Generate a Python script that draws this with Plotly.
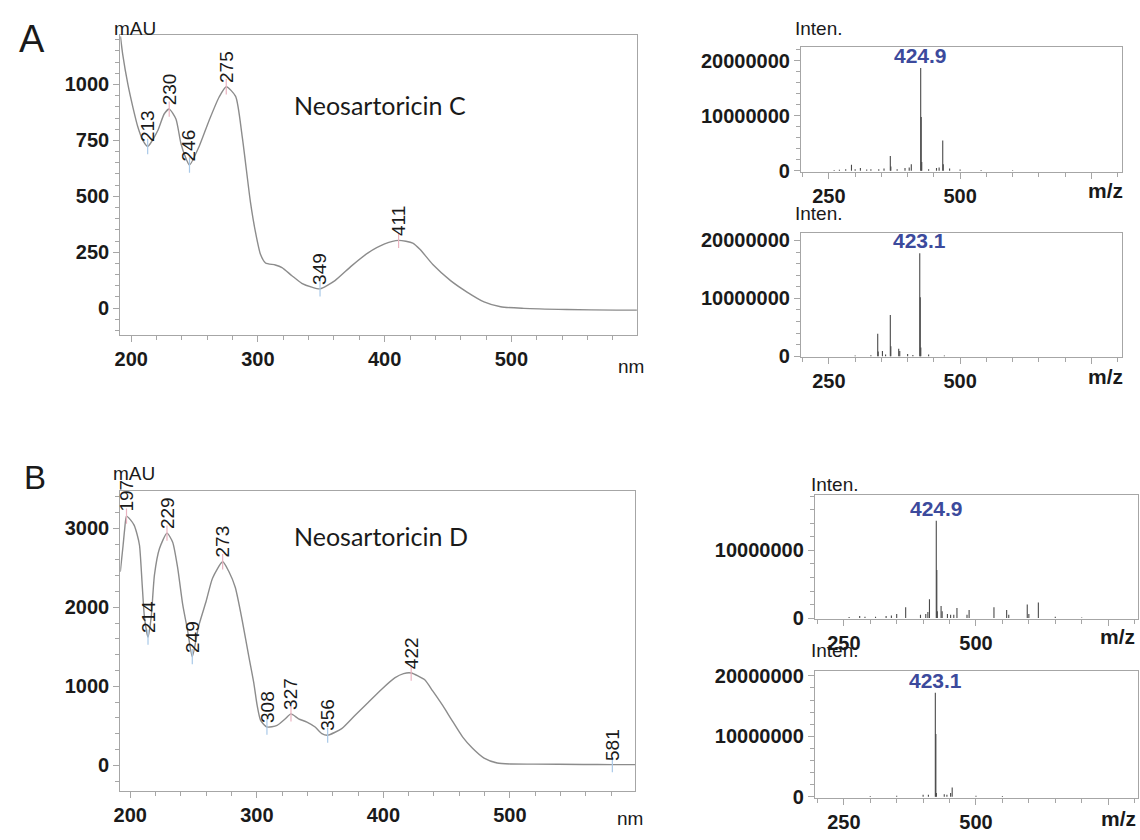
import plotly.graph_objects as go

# ---------------- UV spectra (HPLC-DAD) ----------------
uvC_nm = [191.5, 193.4, 197.4, 201.3, 205.2, 209.2, 213, 221, 226, 230, 235.3, 239.2, 242.5,
          246, 253.6, 261.4, 269.3, 275, 282.4, 287.6, 294.1, 298, 302, 306, 313.7, 319,
          326.8, 334.6, 342.5, 349, 360.8, 373.9, 386.9, 400, 411, 422.2, 428, 438, 452,
          465, 478.4, 491.5, 509.8, 543.5, 583, 599]
uvC_mAU = [1215, 1131, 1000, 899, 811, 750, 723, 794, 868, 890, 846, 737, 680,
           640, 723, 838, 943, 990, 947, 767, 474, 342, 241, 202, 193, 181,
           145, 111, 94, 86, 123, 189, 247, 287, 303, 291, 262, 195, 123,
           72, 28, 6, -1, -6, -9, -9]
peaksC_nm = [213, 230, 246, 275, 349, 411]
peaksC_mAU = [723, 890, 640, 990, 86, 303]
peaksC_kind = ["min", "max", "min", "max", "min", "max"]

uvD_nm = [192.1, 194.3, 195.5, 197, 200, 203, 205.3, 207.3, 209.4, 211.2, 214, 216.5, 219.1,
          223, 229, 233.5, 237.5, 241.4, 245.3, 249, 254, 260, 265, 273, 278, 283, 288.5,
          293.7, 297.6, 300.3, 303, 308, 316, 322.5, 327, 333, 339.6, 346.1, 351.4, 356,
          367.1, 377.5, 388, 398.5, 409, 416, 422, 432.5, 439, 447, 453.5, 462.6, 470.5,
          479.6, 490, 500.6, 519, 558, 581, 599]
uvD_mAU = [2451, 2783, 2980, 3155, 3110, 3040, 2928, 2783, 2286, 1872, 1623, 1872, 2410,
           2741, 2940, 2824, 2493, 2037, 1706, 1375, 1760, 2080, 2369, 2576, 2450, 2250, 1830,
           1375, 1043, 754, 568, 484, 505, 588, 650, 588, 547, 484, 401, 381,
           464, 630, 795, 960, 1106, 1160, 1168, 1085, 941, 754, 588, 360, 215,
           91, 29, 16, 14, 10, 8, 8]
peaksD_nm = [197, 214, 229, 249, 273, 308, 327, 356, 422, 581]
peaksD_mAU = [3155, 1623, 2940, 1375, 2576, 484, 650, 381, 1168, 8]
peaksD_kind = ["max", "min", "max", "min", "max", "min", "max", "min", "max", "min"]

# ---------------- MS spectra (stick data) ----------------
msC_pos_mz = [260, 270, 282, 293, 300, 310, 322, 330, 345, 355, 367, 368, 380, 395, 403, 407,
              424.9, 425.9, 426.9, 440, 455, 460, 466.9, 467.9, 480, 500, 540, 600]
msC_pos_int = [0.15e6, 0.2e6, 0.3e6, 1.1e6, 0.3e6, 0.5e6, 0.25e6, 0.3e6, 0.3e6, 0.4e6, 2.7e6, 0.8e6,
               0.3e6, 0.5e6, 0.6e6, 1.2e6, 18.7e6, 9.8e6, 1.6e6, 0.3e6, 0.5e6, 0.6e6, 5.5e6, 1.2e6,
               0.4e6, 0.25e6, 0.15e6, 0.1e6]

msC_neg_mz = [300, 330, 343, 344, 352, 358, 367, 368, 383, 385, 400, 410, 423.1, 424.1, 425.1, 440, 470]
msC_neg_int = [0.1e6, 0.15e6, 3.9e6, 0.8e6, 0.9e6, 0.3e6, 7.1e6, 1.7e6, 1.3e6, 0.9e6, 0.4e6, 0.2e6,
               17.8e6, 10.2e6, 1.5e6, 0.3e6, 0.1e6]

msD_pos_mz = [260, 280, 290, 310, 330, 340, 350, 367, 395, 405, 409, 412, 424.9, 425.9, 426.9,
              434, 436, 446, 452, 458, 464, 483, 487, 534, 558, 562, 597, 600, 618, 650, 700]
msD_pos_int = [0.15e6, 0.3e6, 0.2e6, 0.2e6, 0.3e6, 0.4e6, 0.6e6, 1.6e6, 0.5e6, 0.6e6, 0.9e6, 2.8e6,
               14.4e6, 7.1e6, 1.0e6, 1.8e6, 1.0e6, 0.6e6, 0.5e6, 0.5e6, 1.5e6, 0.5e6, 1.2e6,
               1.6e6, 1.2e6, 0.5e6, 2.0e6, 0.6e6, 2.3e6, 0.2e6, 0.1e6]

msD_neg_mz = [300, 350, 400, 410, 423.1, 424.1, 425.1, 440, 445, 452, 455, 500, 550]
msD_neg_int = [0.1e6, 0.15e6, 0.3e6, 0.3e6, 17.2e6, 10.4e6, 0.6e6, 0.4e6, 0.3e6, 0.6e6, 1.5e6, 0.15e6, 0.1e6]

W, H = 1140, 840


def px_x(p):
    return p / W


def px_y(p):
    return 1 - p / H


def sticks(mz, inten):
    xs, ys = [], []
    for m, h in zip(mz, inten):
        xs += [m, m, None]
        ys += [0, h, None]
    return xs, ys


TICK_FONT = dict(family="Liberation Sans, Arial, sans-serif", size=20, color="#1a1a1a", weight="bold")
FRAME = "#a6a6a6"
CURVE = "#8c8c8c"
STICK = "#4a4a4a"
MAX_TICK = "#eab3c0"
MIN_TICK = "#a9c9e8"

fig = go.Figure()

# UV curves
fig.add_trace(go.Scatter(x=uvC_nm, y=uvC_mAU, mode="lines", xaxis="x", yaxis="y",
                         line=dict(color=CURVE, width=1.4, shape="spline", smoothing=0.6),
                         showlegend=False, hoverinfo="skip"))
fig.add_trace(go.Scatter(x=uvD_nm, y=uvD_mAU, mode="lines", xaxis="x4", yaxis="y4",
                         line=dict(color=CURVE, width=1.4, shape="spline", smoothing=0.6),
                         showlegend=False, hoverinfo="skip"))

# small tick marks at the detected maxima / minima
for xs, ys, kinds, xa, ya in [(peaksC_nm, peaksC_mAU, peaksC_kind, "x", "y"),
                              (peaksD_nm, peaksD_mAU, peaksD_kind, "x4", "y4")]:
    for kind, col in [("max", MAX_TICK), ("min", MIN_TICK)]:
        sel = [i for i, k in enumerate(kinds) if k == kind]
        fig.add_trace(go.Scatter(x=[xs[i] for i in sel], y=[ys[i] for i in sel],
                                 mode="markers", xaxis=xa, yaxis=ya,
                                 marker=dict(symbol="line-ns", size=11, color=col,
                                             line=dict(color=col, width=1.2)),
                                 showlegend=False, hoverinfo="skip"))

# MS stick spectra
for mz, inten, xa, ya in [(msC_pos_mz, msC_pos_int, "x2", "y2"),
                          (msC_neg_mz, msC_neg_int, "x3", "y3"),
                          (msD_pos_mz, msD_pos_int, "x5", "y5"),
                          (msD_neg_mz, msD_neg_int, "x6", "y6")]:
    sx, sy = sticks(mz, inten)
    fig.add_trace(go.Scatter(x=sx, y=sy, mode="lines", xaxis=xa, yaxis=ya,
                             line=dict(color=STICK, width=1.1),
                             showlegend=False, hoverinfo="skip"))

annotations = []

# peak wavelength labels
for xs, ys, xa, ya in [(peaksC_nm, peaksC_mAU, "x", "y"), (peaksD_nm, peaksD_mAU, "x4", "y4")]:
    for xv, yv in zip(xs, ys):
        annotations.append(dict(x=xv, y=yv, xref=xa, yref=ya, text=str(xv), textangle=-90,
                                showarrow=False, xanchor="center", yanchor="bottom", yshift=2,
                                font=dict(family="Liberation Sans, Arial, sans-serif", size=19,
                                          color="#1a1a1a")))

# base-peak labels
for mzv, val, xa, ya in [("424.9", 18.7e6, "x2", "y2"), ("423.1", 17.8e6, "x3", "y3"),
                         ("424.9", 14.4e6, "x5", "y5"), ("423.1", 17.2e6, "x6", "y6")]:
    annotations.append(dict(x=float(mzv), y=val, xref=xa, yref=ya, text=mzv, showarrow=False,
                            xanchor="center", yanchor="bottom", yshift=-1,
                            font=dict(family="Liberation Sans, Arial, sans-serif", size=21,
                                      color="#3c4a9c", weight="bold")))


def paper_text(text, xp, yp, size, bold=False, family="Liberation Sans, Arial, sans-serif",
               xanchor="center", color="#1a1a1a"):
    f = dict(family=family, size=size, color=color)
    if bold:
        f["weight"] = "bold"
    annotations.append(dict(x=px_x(xp), y=px_y(yp), xref="paper", yref="paper", text=text,
                            showarrow=False, xanchor=xanchor, yanchor="middle", font=f))


paper_text("A", 25, 34, 38)
paper_text("B", 28, 481, 33)
paper_text("mAU", 129, 23, 19)
paper_text("mAU", 128, 477, 19)
paper_text("nm", 628, 368, 19)
paper_text("nm", 627, 828, 19)
paper_text("Neosartoricin C", 287, 101, 25, family="Lato, Open Sans, sans-serif", xanchor="left")
paper_text("Neosartoricin D", 287, 540, 25, family="Lato, Open Sans, sans-serif", xanchor="left")
paper_text("Inten.", 817, 23, 19)
paper_text("Inten.", 817, 212, 19)
paper_text("Inten.", 833, 488, 19)
paper_text("Inten.", 833, 657, 19)
paper_text("m/z", 1105, 188, 21, bold=True)
paper_text("m/z", 1105, 378, 21, bold=True)
paper_text("m/z", 1117, 643, 21, bold=True)
paper_text("m/z", 1118, 828, 21, bold=True)


def frame_axis(**kw):
    base = dict(showline=True, linecolor=FRAME, linewidth=1.3, mirror=True, ticks="outside",
                ticklen=6, tickcolor=FRAME, tickwidth=1, showgrid=False, zeroline=False,
                tickfont=TICK_FONT, fixedrange=True)
    base.update(kw)
    return base


MINOR = dict(ticks="outside", ticklen=4, tickcolor=FRAME)

layout = dict(
    width=W, height=H, margin=dict(l=0, r=0, t=0, b=0),
    paper_bgcolor="white", plot_bgcolor="white", showlegend=False,
    annotations=annotations,
    # UV panel C
    xaxis=frame_axis(domain=[px_x(114), px_x(634)], range=[191.4, 599.2], anchor="y",
                     tick0=200, dtick=100, minor=dict(tick0=200, dtick=20, **MINOR)),
    yaxis=frame_axis(domain=[px_y(335), px_y(30)], range=[-118.4, 1219.3], anchor="x",
                     tick0=0, dtick=250, minor=dict(tick0=0, dtick=50, **MINOR)),
    # MS panel C positive
    xaxis2=frame_axis(domain=[px_x(799), px_x(1122)], range=[197, 808.7], anchor="y2",
                      tickmode="array", tickvals=[250, 500, 750], ticktext=["250", "500", ""],
                      minor=dict(tick0=200, dtick=50, **MINOR)),
    yaxis2=frame_axis(domain=[px_y(169), px_y(42)], range=[-0.18e6, 22.5e6], anchor="x2",
                      tick0=0, dtick=10e6, tickformat="d", minor=dict(tick0=0, dtick=2e6, **MINOR)),
    # MS panel C negative
    xaxis3=frame_axis(domain=[px_x(799), px_x(1122)], range=[197, 808.7], anchor="y3",
                      tickmode="array", tickvals=[250, 500, 750], ticktext=["250", "500", ""],
                      minor=dict(tick0=200, dtick=50, **MINOR)),
    yaxis3=frame_axis(domain=[px_y(358), px_y(231)], range=[-0.17e6, 21.36e6], anchor="x3",
                      tick0=0, dtick=10e6, tickformat="d", minor=dict(tick0=0, dtick=2e6, **MINOR)),
    # UV panel D
    xaxis4=frame_axis(domain=[px_x(114), px_x(632)], range=[192.1, 599], anchor="y4",
                      tick0=200, dtick=100, minor=dict(tick0=200, dtick=20, **MINOR)),
    yaxis4=frame_axis(domain=[px_y(800), px_y(494)], range=[-323, 3478], anchor="x4",
                      tick0=0, dtick=1000, minor=dict(tick0=0, dtick=200, **MINOR)),
    # MS panel D positive
    xaxis5=frame_axis(domain=[px_x(813), px_x(1138)], range=[195.5, 806.5], anchor="y5",
                      tickmode="array", tickvals=[250, 500, 750], ticktext=["250", "500", ""],
                      minor=dict(tick0=200, dtick=50, **MINOR)),
    yaxis5=frame_axis(domain=[px_y(625), px_y(498)], range=[-0.145e6, 18.26e6], anchor="x5",
                      tick0=0, dtick=10e6, tickformat="d", minor=dict(tick0=0, dtick=2e6, **MINOR)),
    # MS panel D negative
    xaxis6=frame_axis(domain=[px_x(813), px_x(1138)], range=[195.5, 806.5], anchor="y6",
                      tickmode="array", tickvals=[250, 500, 750], ticktext=["250", "500", ""],
                      minor=dict(tick0=200, dtick=50, **MINOR)),
    yaxis6=frame_axis(domain=[px_y(807), px_y(678)], range=[-0.16e6, 20.8e6], anchor="x6",
                      tick0=0, dtick=10e6, tickformat="d", minor=dict(tick0=0, dtick=2e6, **MINOR)),
)

fig.update_layout(**layout)
fig.write_html("out.html")
